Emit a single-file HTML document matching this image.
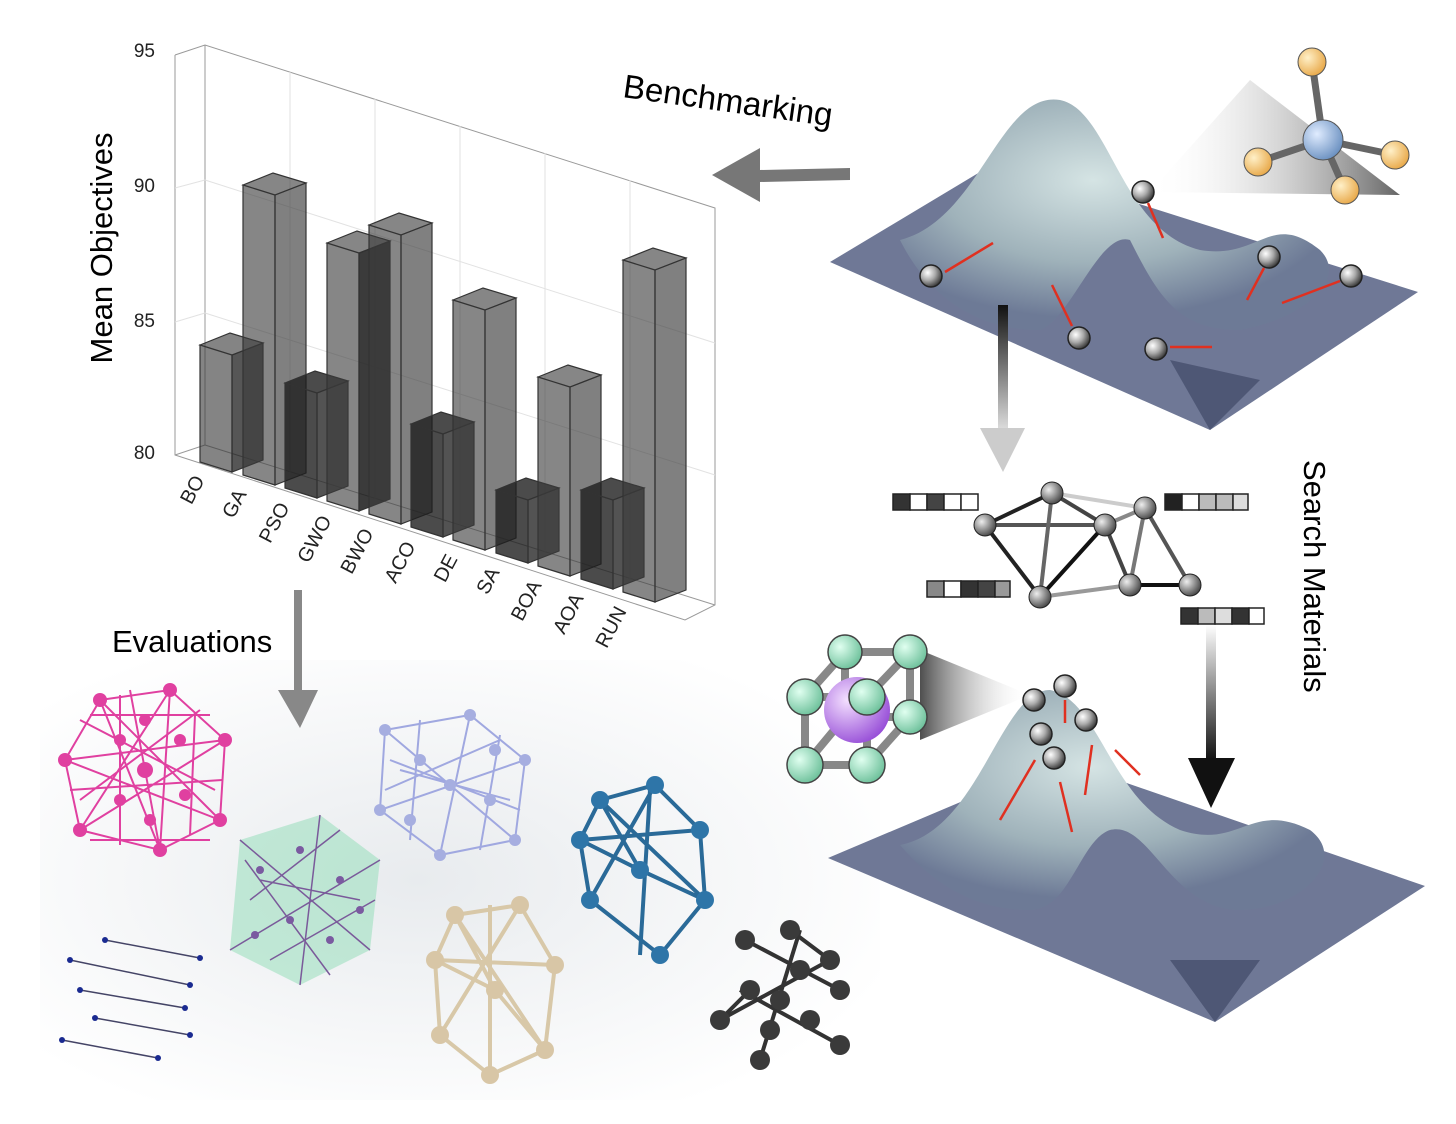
<!DOCTYPE html>
<html><head><meta charset="utf-8"><style>
html,body{margin:0;padding:0;background:#fff}
svg{display:block}
text{font-family:"Liberation Sans",sans-serif}
</style></head><body>
<svg width="1456" height="1124" viewBox="0 0 1456 1124" xmlns="http://www.w3.org/2000/svg">
<defs>
<radialGradient id="bg" cx="0.45" cy="0.5" r="0.6">
<stop offset="0" stop-color="#e8ebee"/><stop offset="1" stop-color="#ffffff"/></radialGradient>
<radialGradient id="peak" cx="0.45" cy="0.35" r="0.6">
<stop offset="0" stop-color="#d5e4e4"/><stop offset="0.6" stop-color="#9fb2ba"/><stop offset="1" stop-color="#6d7a96"/></radialGradient>
<radialGradient id="ball" cx="0.35" cy="0.35" r="0.7">
<stop offset="0" stop-color="#fff"/><stop offset="0.5" stop-color="#aaa"/><stop offset="1" stop-color="#333"/></radialGradient>
<radialGradient id="gball" cx="0.35" cy="0.35" r="0.7">
<stop offset="0" stop-color="#eee"/><stop offset="1" stop-color="#444"/></radialGradient>
<radialGradient id="org" cx="0.35" cy="0.35" r="0.7">
<stop offset="0" stop-color="#fff0c8"/><stop offset="1" stop-color="#e8a848"/></radialGradient>
<radialGradient id="blu" cx="0.35" cy="0.35" r="0.7">
<stop offset="0" stop-color="#e0ecff"/><stop offset="1" stop-color="#6a90c0"/></radialGradient>
<radialGradient id="grn" cx="0.35" cy="0.35" r="0.7">
<stop offset="0" stop-color="#e0fff0"/><stop offset="1" stop-color="#6cc09a"/></radialGradient>
<radialGradient id="pur" cx="0.35" cy="0.35" r="0.7">
<stop offset="0" stop-color="#f4e0ff"/><stop offset="1" stop-color="#9850d8"/></radialGradient>
<linearGradient id="cone" x1="0" y1="0" x2="1" y2="0">
<stop offset="0" stop-color="#222"/><stop offset="1" stop-color="#fff" stop-opacity="0"/></linearGradient>
<linearGradient id="cone2" x1="1" y1="0" x2="0" y2="0">
<stop offset="0" stop-color="#222"/><stop offset="1" stop-color="#fff" stop-opacity="0"/></linearGradient>
<linearGradient id="arr" x1="0" y1="0" x2="0" y2="1">
<stop offset="0" stop-color="#111"/><stop offset="1" stop-color="#ddd"/></linearGradient>
<linearGradient id="arr2" x1="0" y1="0" x2="0" y2="1">
<stop offset="0" stop-color="#fff"/><stop offset="1" stop-color="#111"/></linearGradient>
</defs>
<rect width="1456" height="1124" fill="#fff"/>
<rect x="40" y="660" width="840" height="440" fill="url(#bg)"/>

<g stroke="#999" fill="none" stroke-width="1">
<polyline points="175,55 205,45 715,208 715,605 685,620 175,455 175,55"/>
<line x1="205" y1="45" x2="205" y2="445"/><line x1="205" y1="445" x2="715" y2="605"/>
<line x1="175" y1="455" x2="205" y2="445"/>
</g>
<g stroke="#e2e2e2" stroke-width="1">
<line x1="205" y1="180" x2="715" y2="343"/><line x1="205" y1="313" x2="715" y2="475"/>
<line x1="290" y1="72" x2="290" y2="472"/><line x1="375" y1="99" x2="375" y2="499"/>
<line x1="460" y1="126" x2="460" y2="526"/><line x1="545" y1="153" x2="545" y2="553"/>
<line x1="630" y1="180" x2="630" y2="580"/>
<line x1="175" y1="188" x2="205" y2="180"/><line x1="175" y1="322" x2="205" y2="313"/>
</g>
<g font-size="19" fill="#222" text-anchor="end">
<text x="155" y="57">95</text><text x="155" y="192">90</text><text x="155" y="327">85</text><text x="155" y="459">80</text>
</g>
<text transform="translate(112,248) rotate(-90)" font-size="31" text-anchor="middle" fill="#000">Mean Objectives</text>

<g stroke="#333" stroke-width="1.2">
<path d="M200,345 L230,333 L263,343 L232,355 Z M200,345 L232,355 L232,472 L200,462Z" fill="rgba(50,50,50,0.6)"/><path d="M232,355 L263,343 L263,460 L232,472Z" fill="rgba(30,30,30,0.75)"/>
<path d="M243,185 L273,173 L306,183 L275,195 Z M243,185 L275,195 L275,485 L243,475Z" fill="rgba(60,60,60,0.62)"/><path d="M275,195 L306,183 L306,473 L275,485Z" fill="rgba(60,60,60,0.65)"/>
<path d="M285,383 L315,371 L348,381 L317,393 Z M285,383 L317,393 L317,498 L285,488Z" fill="rgba(30,30,30,0.8)"/><path d="M317,393 L348,381 L348,486 L317,498Z" fill="rgba(40,40,40,0.8)"/>
<path d="M327,243 L357,231 L390,241 L359,253 Z M327,243 L359,253 L359,511 L327,501Z" fill="rgba(60,60,60,0.62)"/><path d="M359,253 L390,241 L390,499 L359,511Z" fill="rgba(25,25,25,0.85)"/>
<path d="M369,225 L399,213 L432,223 L401,235 Z M369,225 L401,235 L401,524 L369,514Z" fill="rgba(60,60,60,0.62)"/><path d="M401,235 L432,223 L432,512 L401,524Z" fill="rgba(60,60,60,0.65)"/>
<path d="M411,424 L441,412 L474,422 L443,434 Z M411,424 L443,434 L443,537 L411,527Z" fill="rgba(30,30,30,0.8)"/><path d="M443,434 L474,422 L474,525 L443,537Z" fill="rgba(40,40,40,0.8)"/>
<path d="M453,300 L483,288 L516,298 L485,310 Z M453,300 L485,310 L485,550 L453,540Z" fill="rgba(60,60,60,0.62)"/><path d="M485,310 L516,298 L516,538 L485,550Z" fill="rgba(60,60,60,0.65)"/>
<path d="M496,490 L526,478 L559,488 L528,500 Z M496,490 L528,500 L528,563 L496,553Z" fill="rgba(30,30,30,0.8)"/><path d="M528,500 L559,488 L559,551 L528,563Z" fill="rgba(40,40,40,0.8)"/>
<path d="M538,377 L568,365 L601,375 L570,387 Z M538,377 L570,387 L570,576 L538,566Z" fill="rgba(60,60,60,0.62)"/><path d="M570,387 L601,375 L601,564 L570,576Z" fill="rgba(60,60,60,0.65)"/>
<path d="M581,490 L611,478 L644,488 L613,500 Z M581,490 L613,500 L613,589 L581,579Z" fill="rgba(30,30,30,0.8)"/><path d="M613,500 L644,488 L644,577 L613,589Z" fill="rgba(40,40,40,0.8)"/>
<path d="M623,260 L653,248 L686,258 L655,270 Z M623,260 L655,270 L655,602 L623,592Z" fill="rgba(60,60,60,0.62)"/><path d="M655,270 L686,258 L686,590 L655,602Z" fill="rgba(60,60,60,0.65)"/>
</g>
<g font-size="20" fill="#222" text-anchor="end">
<text transform="translate(205,480) rotate(-62)">BO</text>
<text transform="translate(247,494) rotate(-62)">GA</text>
<text transform="translate(290,507) rotate(-62)">PSO</text>
<text transform="translate(332,520) rotate(-62)">GWO</text>
<text transform="translate(374,533) rotate(-62)">BWO</text>
<text transform="translate(416,546) rotate(-62)">ACO</text>
<text transform="translate(458,559) rotate(-62)">DE</text>
<text transform="translate(500,572) rotate(-62)">SA</text>
<text transform="translate(542,585) rotate(-62)">BOA</text>
<text transform="translate(584,598) rotate(-62)">AOA</text>
<text transform="translate(627,611) rotate(-62)">RUN</text>
</g>

<text transform="translate(622,97) rotate(8)" font-size="33" fill="#000">Benchmarking</text>
<text x="112" y="652" font-size="31" fill="#000">Evaluations</text>
<text transform="translate(1304,460) rotate(90)" font-size="31" fill="#000">Search Materials</text>

<path d="M850,168 L760,170 L760,148 L712,175 L760,202 L760,182 L850,180Z" fill="#777"/>
<path d="M294,590 L294,690 L278,690 L300,728 L318,690 L302,690 L302,590Z" fill="#888"/>

<!-- top landscape -->
<path d="M830,262 L1000,160 L1418,292 L1210,430 Z" fill="#6f7896"/>
<path d="M900,240 C980,220 1000,90 1060,100 C1110,110 1120,230 1200,250 C1260,260 1270,210 1320,250 C1350,280 1300,320 1240,330 C1180,330 1160,300 1130,240 C1100,230 1070,320 1040,330 C980,330 930,300 900,240Z" fill="url(#peak)"/>
<path d="M1170,360 L1210,430 L1260,380Z" fill="#4e5775"/>
<!-- bottom landscape -->
<path d="M828,858 L1060,760 L1425,886 L1215,1022 Z" fill="#6f7896"/>
<path d="M900,845 C980,830 1000,690 1050,690 C1100,700 1110,800 1180,830 C1240,850 1250,800 1310,830 C1350,860 1300,910 1240,910 C1170,910 1150,820 1110,830 C1080,840 1070,910 1030,910 C970,910 930,880 900,845Z" fill="url(#peak)"/>
<path d="M1170,960 L1215,1022 L1260,960Z" fill="#4e5775"/>

<path d="M1150,192 L1250,80 L1400,195Z" fill="url(#cone2)" opacity="0.7"/>
<g stroke="#666" stroke-width="7"><line x1="1323" y1="140" x2="1312" y2="62"/><line x1="1323" y1="140" x2="1258" y2="162"/><line x1="1323" y1="140" x2="1395" y2="155"/><line x1="1323" y1="140" x2="1345" y2="190"/></g>
<circle cx="1312" cy="62" r="14" fill="url(#org)" stroke="#555"/><circle cx="1258" cy="162" r="14" fill="url(#org)" stroke="#555"/>
<circle cx="1395" cy="155" r="14" fill="url(#org)" stroke="#555"/><circle cx="1345" cy="190" r="14" fill="url(#org)" stroke="#555"/>
<circle cx="1323" cy="140" r="20" fill="url(#blu)" stroke="#555"/>
<g fill="url(#ball)" stroke="#222" stroke-width="1.5">
<circle cx="1143" cy="192" r="11"/><circle cx="931" cy="276" r="11"/><circle cx="1079" cy="338" r="11"/>
<circle cx="1156" cy="349" r="11"/><circle cx="1269" cy="257" r="11"/><circle cx="1351" cy="276" r="11"/>
</g>
<g stroke="#e03020" stroke-width="2.5">
<line x1="945" y1="272" x2="993" y2="243"/><line x1="1148" y1="203" x2="1163" y2="238"/>
<line x1="1072" y1="326" x2="1052" y2="285"/><line x1="1170" y1="347" x2="1212" y2="347"/>
<line x1="1264" y1="268" x2="1247" y2="300"/><line x1="1340" y1="281" x2="1282" y2="303"/>
</g>
<rect x="998" y="305" width="10" height="125" fill="url(#arr)"/><path d="M980,428 L1025,428 L1003,472Z" fill="#ccc"/>
<rect x="1206" y="625" width="10" height="135" fill="url(#arr2)"/><path d="M1188,758 L1235,758 L1211,808Z" fill="#111"/>

<g stroke-width="4">
<line x1="985" y1="525" x2="1052" y2="493" stroke="#222"/><line x1="985" y1="525" x2="1105" y2="525" stroke="#555"/>
<line x1="985" y1="525" x2="1040" y2="597" stroke="#222"/><line x1="1052" y1="493" x2="1040" y2="597" stroke="#666"/>
<line x1="1052" y1="493" x2="1105" y2="525" stroke="#444"/><line x1="1105" y1="525" x2="1040" y2="597" stroke="#111"/>
<line x1="1105" y1="525" x2="1145" y2="508" stroke="#888"/><line x1="1105" y1="525" x2="1130" y2="585" stroke="#444"/>
<line x1="1145" y1="508" x2="1190" y2="585" stroke="#555"/><line x1="1130" y1="585" x2="1190" y2="585" stroke="#111"/>
<line x1="1040" y1="597" x2="1130" y2="585" stroke="#999"/><line x1="1145" y1="508" x2="1130" y2="585" stroke="#777"/>
<line x1="1052" y1="493" x2="1145" y2="508" stroke="#ccc"/>
</g>
<g fill="url(#gball)" stroke="#222">
<circle cx="985" cy="525" r="11"/><circle cx="1052" cy="493" r="11"/><circle cx="1105" cy="525" r="11"/>
<circle cx="1040" cy="597" r="11"/><circle cx="1145" cy="508" r="11"/><circle cx="1130" cy="585" r="11"/><circle cx="1190" cy="585" r="11"/>
</g>
<g stroke="#222" stroke-width="1.5">
<rect x="893" y="494" width="17" height="16" fill="#333"/><rect x="910" y="494" width="17" height="16" fill="#fff"/><rect x="927" y="494" width="17" height="16" fill="#444"/><rect x="944" y="494" width="17" height="16" fill="#fff"/><rect x="961" y="494" width="17" height="16" fill="#fff"/>
<rect x="1165" y="494" width="17" height="16" fill="#222"/><rect x="1182" y="494" width="17" height="16" fill="#fff"/><rect x="1199" y="494" width="17" height="16" fill="#bbb"/><rect x="1216" y="494" width="17" height="16" fill="#bbb"/><rect x="1233" y="494" width="15" height="16" fill="#ddd"/>
<rect x="927" y="581" width="17" height="16" fill="#888"/><rect x="944" y="581" width="17" height="16" fill="#fff"/><rect x="961" y="581" width="17" height="16" fill="#333"/><rect x="978" y="581" width="17" height="16" fill="#444"/><rect x="995" y="581" width="15" height="16" fill="#999"/>
<rect x="1181" y="608" width="17" height="16" fill="#333"/><rect x="1198" y="608" width="17" height="16" fill="#bbb"/><rect x="1215" y="608" width="17" height="16" fill="#ddd"/><rect x="1232" y="608" width="17" height="16" fill="#333"/><rect x="1249" y="608" width="15" height="16" fill="#fff"/>
</g>

<path d="M920,650 L1030,695 L920,740Z" fill="url(#cone)" opacity="0.8"/>
<g stroke="#888" stroke-width="8" fill="none">
<rect x="845" y="652" width="65" height="65"/><rect x="805" y="697" width="62" height="68"/>
<line x1="845" y1="652" x2="805" y2="697"/><line x1="910" y1="652" x2="867" y2="697"/><line x1="910" y1="717" x2="867" y2="765"/><line x1="845" y1="717" x2="805" y2="765"/>
</g>
<circle cx="857" cy="710" r="33" fill="url(#pur)"/>
<g fill="url(#grn)" stroke="#444" stroke-width="1.5">
<circle cx="845" cy="652" r="17"/><circle cx="910" cy="652" r="17"/><circle cx="910" cy="717" r="17"/>
<circle cx="805" cy="697" r="18"/><circle cx="867" cy="697" r="18"/><circle cx="805" cy="765" r="18"/><circle cx="867" cy="765" r="18"/>
</g>
<g fill="url(#ball)" stroke="#222" stroke-width="1.5">
<circle cx="1034" cy="700" r="11"/><circle cx="1065" cy="686" r="11"/><circle cx="1086" cy="720" r="11"/><circle cx="1041" cy="734" r="11"/><circle cx="1054" cy="758" r="11"/>
</g>
<g stroke="#e03020" stroke-width="2.5">
<line x1="1000" y1="820" x2="1035" y2="760"/><line x1="1072" y1="832" x2="1060" y2="782"/><line x1="1085" y1="795" x2="1092" y2="745"/><line x1="1140" y1="775" x2="1115" y2="750"/><line x1="1065" y1="723" x2="1065" y2="700"/>
</g>

<!-- pink crystal denser -->
<g stroke="#e040a0" stroke-width="2" fill="none">
<polygon points="100,700 170,690 225,740 220,820 160,850 80,830 65,760"/>
<path d="M100,700 L220,820 M170,690 L80,830 M65,760 L225,740 M160,850 L130,690 M80,720 L215,790 M80,800 L200,710 M100,700 L160,850 M65,760 L220,820 M80,830 L225,740 M170,690 L160,850 M120,695 L120,845 M195,715 L190,835 M70,790 L222,780 M90,715 L210,715 M90,840 L210,840"/>
</g>
<g fill="#e040a0"><circle cx="100" cy="700" r="7"/><circle cx="170" cy="690" r="7"/><circle cx="225" cy="740" r="7"/><circle cx="220" cy="820" r="7"/><circle cx="160" cy="850" r="7"/><circle cx="80" cy="830" r="7"/><circle cx="65" cy="760" r="7"/><circle cx="145" cy="770" r="8"/><circle cx="120" cy="740" r="6"/><circle cx="185" cy="795" r="6"/><circle cx="120" cy="800" r="6"/><circle cx="180" cy="740" r="6"/><circle cx="145" cy="720" r="6"/><circle cx="150" cy="820" r="6"/></g>
<polygon points="240,840 320,815 380,860 370,950 300,985 230,950" fill="#9fe0c0" opacity="0.6"/>
<g stroke="#7a5a9a" stroke-width="1.5" fill="none"><path d="M240,840 L370,950 M320,815 L300,985 M230,950 L380,860 M260,880 L360,900 M250,900 L340,830 M270,960 L375,900 M245,860 L330,975"/></g>
<g fill="#7a5aa0"><circle cx="260" cy="870" r="4"/><circle cx="300" cy="850" r="4"/><circle cx="340" cy="880" r="4"/><circle cx="290" cy="920" r="4"/><circle cx="330" cy="940" r="4"/><circle cx="255" cy="935" r="4"/><circle cx="360" cy="910" r="4"/></g>
<g stroke="#a0a8e0" stroke-width="2" fill="none"><polygon points="385,730 470,715 525,760 515,840 440,855 380,810"/><path d="M385,730 L515,840 M470,715 L440,855 M380,810 L525,760 M400,770 L510,800 M420,720 L410,840 M500,735 L480,850 M390,760 L520,810 M385,790 L500,740"/></g>
<g fill="#a6aee0"><circle cx="385" cy="730" r="6"/><circle cx="470" cy="715" r="6"/><circle cx="525" cy="760" r="6"/><circle cx="515" cy="840" r="6"/><circle cx="440" cy="855" r="6"/><circle cx="380" cy="810" r="6"/><circle cx="450" cy="785" r="6"/><circle cx="420" cy="760" r="6"/><circle cx="490" cy="800" r="6"/><circle cx="410" cy="820" r="6"/><circle cx="495" cy="750" r="6"/></g>
<g stroke="#2a6a98" stroke-width="4" fill="none"><polygon points="600,800 655,785 700,830 705,900 660,955 590,900 580,840"/><path d="M600,800 L705,900 M655,785 L590,900 M580,840 L700,830 M640,955 L650,790 M600,800 L640,870 L705,900 M580,840 L640,870"/></g>
<g fill="#2e75a8"><circle cx="600" cy="800" r="9"/><circle cx="655" cy="785" r="9"/><circle cx="700" cy="830" r="9"/><circle cx="705" cy="900" r="9"/><circle cx="660" cy="955" r="9"/><circle cx="590" cy="900" r="9"/><circle cx="580" cy="840" r="9"/><circle cx="640" cy="870" r="9"/></g>
<g stroke="#d8c8a8" stroke-width="4" fill="none"><polygon points="455,915 520,905 555,965 545,1050 490,1075 440,1035 435,960"/><path d="M455,915 L545,1050 M520,905 L440,1035 M435,960 L555,965 M490,1075 L490,905 M455,915 L495,990 L545,1050 M435,960 L495,990"/></g>
<g fill="#d8c6a6"><circle cx="455" cy="915" r="9"/><circle cx="520" cy="905" r="9"/><circle cx="555" cy="965" r="9"/><circle cx="545" cy="1050" r="9"/><circle cx="490" cy="1075" r="9"/><circle cx="440" cy="1035" r="9"/><circle cx="435" cy="960" r="9"/><circle cx="495" cy="990" r="9"/></g>
<g stroke="#333" stroke-width="4"><path d="M745,940 L840,990 M720,1020 L830,960 M760,1060 L800,930 M740,990 L840,1045 M790,930 L830,960 M750,990 L720,1020"/></g>
<g fill="#3a3a3a"><circle cx="745" cy="940" r="10"/><circle cx="790" cy="930" r="10"/><circle cx="840" cy="990" r="10"/><circle cx="720" cy="1020" r="10"/><circle cx="830" cy="960" r="10"/><circle cx="760" cy="1060" r="10"/><circle cx="840" cy="1045" r="10"/><circle cx="780" cy="1000" r="10"/><circle cx="810" cy="1020" r="10"/><circle cx="750" cy="990" r="10"/><circle cx="800" cy="970" r="10"/><circle cx="770" cy="1030" r="10"/></g>
<g stroke="#446" stroke-width="1.5">
<line x1="105" y1="940" x2="200" y2="958"/><line x1="70" y1="960" x2="190" y2="985"/><line x1="80" y1="990" x2="185" y2="1008"/><line x1="95" y1="1018" x2="190" y2="1035"/><line x1="62" y1="1040" x2="158" y2="1058"/>
</g>
<g fill="#1a2a90"><circle cx="105" cy="940" r="3"/><circle cx="200" cy="958" r="3"/><circle cx="70" cy="960" r="3"/><circle cx="190" cy="985" r="3"/><circle cx="80" cy="990" r="3"/><circle cx="185" cy="1008" r="3"/><circle cx="95" cy="1018" r="3"/><circle cx="190" cy="1035" r="3"/><circle cx="62" cy="1040" r="3"/><circle cx="158" cy="1058" r="3"/></g>
</svg>
</body></html>
